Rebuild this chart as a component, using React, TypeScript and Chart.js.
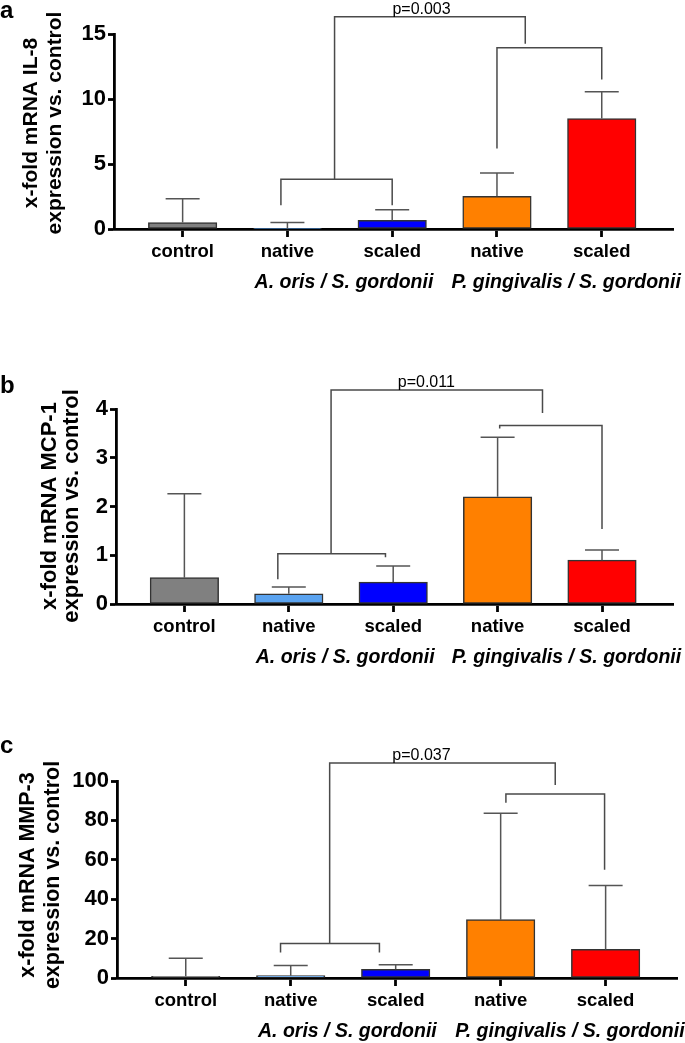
import React, { useEffect, useRef } from 'react';
import { Chart, registerables } from 'chart.js';

Chart.register(...registerables);

const FONT = '"Liberation Sans", Arial, Helvetica, sans-serif';

// ---- shared categories ----
const categories = ['control', 'native', 'scaled', 'native', 'scaled'];
const groupLabels = ['A. oris / S. gordonii', 'P. gingivalis / S. gordonii'];
const groupLabelX = [1.54, 3.66];
const barColors = ['#808080', '#5aa3f0', '#0000ff', '#ff8000', '#ff0000'];

// ---- panel a: IL-8 ----
const il8Mean = [0.5, 0.02, 0.67, 2.52, 8.5];
const il8Upper = [2.33, 0.5, 1.48, 4.3, 10.56];
const il8Ticks = [0, 5, 10, 15];
// [xStart, xEnd, yBar, yLeftArmEnd, yRightArmEnd]
const il8Brackets = [
  [0.938, 2.0, 3.82, 1.82, 1.82],
  [1.45, 3.27, 16.33, 3.82, 14.25],
  [3.0, 4.0, 13.95, 6.2, 11.5],
];
const il8P = 'p=0.003';
const il8PX = 2.28;

// ---- panel b: MCP-1 ----
const mcp1Mean = [0.54, 0.21, 0.45, 2.2, 0.9];
const mcp1Upper = [2.26, 0.35, 0.78, 3.42, 1.11];
const mcp1Ticks = [0, 1, 2, 3, 4];
const mcp1Brackets = [
  [0.895, 1.926, 1.03, 0.506, 0.96],
  [1.405, 3.43, 4.39, 1.03, 3.92],
  [3.02, 4.0, 3.66, 3.6, 1.54],
];
const mcp1P = 'p=0.011';
const mcp1PX = 2.317;

// ---- panel c: MMP-3 ----
const mmp3Mean = [0.9, 1.2, 4.4, 29.6, 14.5];
const mmp3Upper = [10, 6.3, 6.7, 83.6, 47];
const mmp3Ticks = [0, 20, 40, 60, 80, 100];
const mmp3Brackets = [
  [0.903, 1.845, 17.5, 13.0, 13.0],
  [1.371, 3.52, 109.1, 17.5, 98.0],
  [3.05, 3.99, 93.4, 89.0, 54.9],
];
const mmp3P = 'p=0.037';
const mmp3PX = 2.246;

type PanelCfg = {
  letter: string;
  title: string[];
  mean: number[];
  upper: number[];
  ticks: number[];
  brackets: number[][];
  p: string;
  pX: number;
  top: number;
  height: number;
  chartTop: number;
  chartBottom: number;
  axisLeft: number;
  rightEnd: number;
  letterY: number;
  titleX: number[];
  titleY: number;
  titleSize: number;
};

const panels: PanelCfg[] = [
  {
    letter: 'a', title: ['x-fold mRNA IL-8', 'expression vs. control'],
    mean: il8Mean, upper: il8Upper, ticks: il8Ticks, brackets: il8Brackets, p: il8P, pX: il8PX,
    top: 0, height: 330, chartTop: 34, chartBottom: 229, axisLeft: 114, rightEnd: 673,
    letterY: 18, titleX: [31.7, 55], titleY: 123, titleSize: 21,
  },
  {
    letter: 'b', title: ['x-fold mRNA MCP-1', 'expression vs. control'],
    mean: mcp1Mean, upper: mcp1Upper, ticks: mcp1Ticks, brackets: mcp1Brackets, p: mcp1P, pX: mcp1PX,
    top: 330, height: 360, chartTop: 79, chartBottom: 274, axisLeft: 116, rightEnd: 673,
    letterY: 63, titleX: [50, 72], titleY: 176, titleSize: 22,
  },
  {
    letter: 'c', title: ['x-fold mRNA MMP-3', 'expression vs. control'],
    mean: mmp3Mean, upper: mmp3Upper, ticks: mmp3Ticks, brackets: mmp3Brackets, p: mmp3P, pX: mmp3PX,
    top: 690, height: 353, chartTop: 91, chartBottom: 288, axisLeft: 117, rightEnd: 677,
    letterY: 63, titleX: [28, 53], titleY: 185, titleSize: 21.5,
  },
];

const X_SCALE_HEIGHT = 40;

function Panel({ cfg }: { cfg: PanelCfg }) {
  const ref = useRef<HTMLCanvasElement>(null);

  useEffect(() => {
    if (!ref.current) return;
    const overlay = {
      id: 'overlay' + cfg.letter,
      afterDraw(chart: any) {
        const { ctx, scales, chartArea } = chart;
        const xs = scales.x;
        const ys = scales.y;
        const px = (v: number) => xs.getPixelForValue(v);
        const py = (v: number) => ys.getPixelForValue(v);
        ctx.save();
        // error bars (upper only)
        ctx.strokeStyle = '#555';
        ctx.lineWidth = 1.5;
        ctx.beginPath();
        cfg.mean.forEach((m, i) => {
          const X = px(i);
          const y0 = py(m);
          const y1 = py(cfg.upper[i]);
          ctx.moveTo(X, y0);
          ctx.lineTo(X, y1);
          ctx.moveTo(X - 17, y1);
          ctx.lineTo(X + 17, y1);
        });
        ctx.stroke();
        // brackets
        ctx.strokeStyle = '#4a4a4a';
        ctx.lineWidth = 1.5;
        ctx.beginPath();
        cfg.brackets.forEach(([x1, x2, yb, yl, yr]) => {
          ctx.moveTo(px(x1), py(yl));
          ctx.lineTo(px(x1), py(yb));
          ctx.lineTo(px(x2), py(yb));
          ctx.lineTo(px(x2), py(yr));
        });
        ctx.stroke();
        // p value
        const topBracket = cfg.brackets[1];
        ctx.fillStyle = '#000';
        ctx.font = `16px ${FONT}`;
        ctx.textAlign = 'center';
        ctx.textBaseline = 'alphabetic';
        ctx.fillText(cfg.p, px(cfg.pX), py(topBracket[2]) - 3);
        // group labels
        ctx.font = `italic bold 19.5px ${FONT}`;
        ctx.textBaseline = 'middle';
        groupLabels.forEach((g, i) => {
          ctx.fillText(g, px(groupLabelX[i]), chartArea.bottom + 54);
        });
        // panel letter
        ctx.font = `bold 24px ${FONT}`;
        ctx.textAlign = 'left';
        ctx.textBaseline = 'alphabetic';
        ctx.fillText(cfg.letter, 0, cfg.letterY);
        // y title (two lines, rotated)
        ctx.font = `bold ${cfg.titleSize}px ${FONT}`;
        ctx.textAlign = 'center';
        ctx.textBaseline = 'middle';
        cfg.title.forEach((t, i) => {
          ctx.save();
          ctx.translate(cfg.titleX[i], cfg.titleY);
          ctx.rotate(-Math.PI / 2);
          ctx.fillText(t, 0, 0);
          ctx.restore();
        });
        ctx.restore();
      },
    };

    const chart = new Chart(ref.current, {
      type: 'bar',
      data: {
        datasets: [
          {
            data: cfg.mean.map((v, i) => ({ x: i, y: v })),
            backgroundColor: barColors,
            borderColor: '#333',
            borderWidth: 1.5,
            borderSkipped: false,
            barThickness: 68.5,
          } as any,
        ],
      },
      options: {
        animation: false,
        responsive: false,
        events: [],
        layout: {
          padding: {
            top: cfg.chartTop,
            left: 0,
            right: 685 - cfg.rightEnd,
            bottom: cfg.height - cfg.chartBottom - X_SCALE_HEIGHT,
          },
        },
        plugins: { legend: { display: false }, tooltip: { enabled: false }, title: { display: false } },
        scales: {
          x: {
            type: 'linear',
            min: -0.655,
            max: 4.68,
            offset: false,
            z: 1,
            afterBuildTicks: (s: any) => {
              s.ticks = categories.map((_, i) => ({ value: i }));
            },
            afterFit: (s: any) => {
              s.height = X_SCALE_HEIGHT;
            },
            ticks: {
              autoSkip: false,
              maxRotation: 0,
              minRotation: 0,
              padding: 4,
              color: '#000',
              font: { family: FONT, size: 18.5, weight: 'bold' },
              callback: (v: any) => categories[v as number] ?? '',
            },
            grid: {
              display: true,
              offset: false,
              drawOnChartArea: false,
              drawTicks: true,
              tickLength: 8,
              tickColor: '#000',
              tickWidth: 2.8,
            },
            border: { display: true, color: '#000', width: 2.8 },
          } as any,
          y: {
            type: 'linear',
            min: 0,
            max: cfg.ticks[cfg.ticks.length - 1],
            z: 1,
            afterBuildTicks: (s: any) => {
              s.ticks = cfg.ticks.map((v) => ({ value: v }));
            },
            afterFit: (s: any) => {
              s.width = cfg.axisLeft;
            },
            ticks: {
              padding: 2,
              color: '#000',
              font: { family: FONT, size: 22, weight: 'bold' },
            },
            grid: {
              display: true,
              drawOnChartArea: false,
              drawTicks: true,
              tickLength: 6,
              tickColor: '#000',
              tickWidth: 2.8,
            },
            border: { display: true, color: '#000', width: 2.8 },
          } as any,
        },
      },
      plugins: [overlay],
    });
    return () => chart.destroy();
  }, [cfg]);

  return (
    <div style={{ position: 'absolute', left: 0, top: cfg.top, width: 685, height: cfg.height }}>
      <canvas ref={ref} width={685} height={cfg.height} style={{ display: 'block' }} />
    </div>
  );
}

export default function App() {
  return (
    <div style={{ position: 'absolute', left: 0, top: 0, width: 685, height: 1043, background: '#fff', overflow: 'hidden' }}>
      {panels.map((p) => (
        <Panel key={p.letter} cfg={p} />
      ))}
    </div>
  );
}
